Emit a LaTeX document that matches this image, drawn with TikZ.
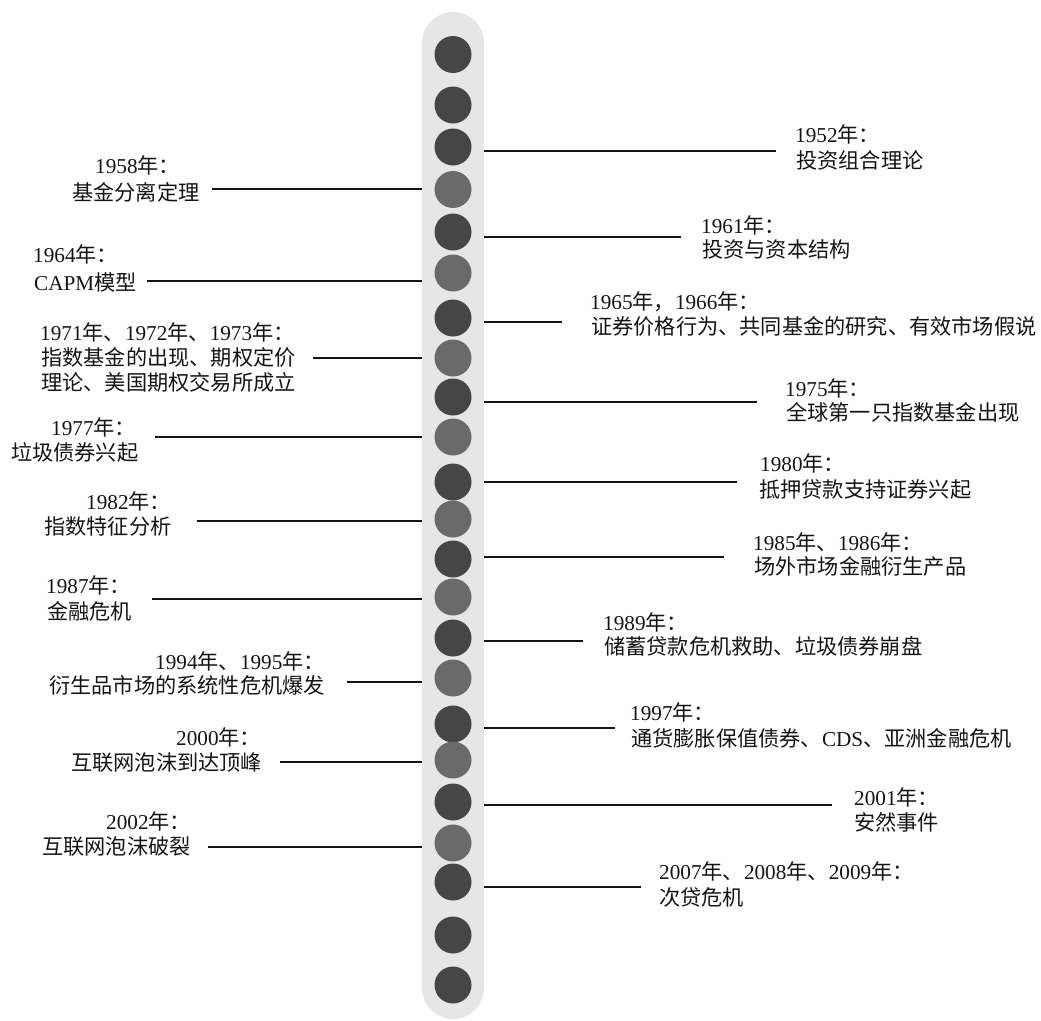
\documentclass[tikz,border=0pt]{standalone}
\usepackage{fontspec}
\setmainfont{Liberation Serif}
\newfontfamily\cjk{Noto Sans CJK SC}
\newcommand{\zhs}[1]{{\cjk #1}}
\definecolor{bargray}{HTML}{E6E6E6}
\definecolor{dotdark}{HTML}{464646}
\definecolor{dotlight}{HTML}{6A6A6A}
\definecolor{ink}{HTML}{141414}
\begin{document}
\begin{tikzpicture}[x=1pt,y=-1pt,
  lbl/.style={anchor=base west, inner sep=0pt, font=\fontsize{21.2}{26}\selectfont, text=ink},
  dotd/.style={circle, fill=dotdark, minimum size=37pt, inner sep=0pt},
  dotl/.style={circle, fill=dotlight, minimum size=37pt, inner sep=0pt},
  conn/.style={draw=ink, line width=1.7pt},
  barstyle/.style={fill=bargray, rounded corners=31pt, minimum width=62pt, minimum height=1007pt, inner sep=0pt}]
\useasboundingbox (0,0) rectangle (1041,1020);

% vertical bar
\node[barstyle] (bar) at (453,515.5) {};

% dots
\foreach \yy/\st [count=\i] in {54.5/dotd,105/dotd,147/dotd,189.5/dotl,232/dotd,273/dotl,318/dotd,358/dotl,397/dotd,437/dotl,482/dotd,519/dotl,559/dotd,597/dotl,638/dotd,678/dotl,724/dotd,760/dotl,802/dotd,843/dotl,882/dotd,935/dotd,985/dotd}
  \node[\st] (c\i) at (453,\yy) {};

% ---------- left labels ----------
\node[lbl] (y1958) at (95,173) {1958\zhs{年：}};
\node[lbl] (d1958) at (72,200) {\zhs{基金分离定理}};
\coordinate (s1958) at (212,189);
\draw[conn] (s1958) -- (s1958 -| bar.west);

\node[lbl] (y1964) at (33,262) {1964\zhs{年：}};
\node[lbl] (d1964) at (34,290) {CAPM\zhs{模型}};
\coordinate (s1964) at (147,281);
\draw[conn] (s1964) -- (s1964 -| bar.west);

\node[lbl] (y1971) at (40,340) {1971\zhs{年、}1972\zhs{年、}1973\zhs{年：}};
\node[lbl] (d1971a) at (41,365) {\zhs{指数基金的出现、期权定价}};
\node[lbl] (d1971b) at (41,390) {\zhs{理论、美国期权交易所成立}};
\coordinate (s1971) at (313,358);
\draw[conn] (s1971) -- (s1971 -| bar.west);

\node[lbl] (y1977) at (51,435) {1977\zhs{年：}};
\node[lbl] (d1977) at (11,460) {\zhs{垃圾债券兴起}};
\coordinate (s1977) at (155,437);
\draw[conn] (s1977) -- (s1977 -| bar.west);

\node[lbl] (y1982) at (86,509) {1982\zhs{年：}};
\node[lbl] (d1982) at (44,534) {\zhs{指数特征分析}};
\coordinate (s1982) at (197,521);
\draw[conn] (s1982) -- (s1982 -| bar.west);

\node[lbl] (y1987) at (46,593) {1987\zhs{年：}};
\node[lbl] (d1987) at (47,619) {\zhs{金融危机}};
\coordinate (s1987) at (152,599);
\draw[conn] (s1987) -- (s1987 -| bar.west);

\node[lbl] (y1994) at (155,669) {1994\zhs{年、}1995\zhs{年：}};
\node[lbl] (d1994) at (49,693) {\zhs{衍生品市场的系统性危机爆发}};
\coordinate (s1994) at (347,682);
\draw[conn] (s1994) -- (s1994 -| bar.west);

\node[lbl] (y2000) at (176,745) {2000\zhs{年：}};
\node[lbl] (d2000) at (71,770) {\zhs{互联网泡沫到达顶峰}};
\coordinate (s2000) at (280,762);
\draw[conn] (s2000) -- (s2000 -| bar.west);

\node[lbl] (y2002) at (106,829) {2002\zhs{年：}};
\node[lbl] (d2002) at (42,854) {\zhs{互联网泡沫破裂}};
\coordinate (s2002) at (208,847);
\draw[conn] (s2002) -- (s2002 -| bar.west);

% ---------- right labels ----------
\node[lbl] (y1952) at (795,142) {1952\zhs{年：}};
\node[lbl] (d1952) at (796,168) {\zhs{投资组合理论}};
\coordinate (e1952) at (776,151);
\draw[conn] (e1952 -| bar.east) -- (e1952);

\node[lbl] (y1961) at (701,233) {1961\zhs{年：}};
\node[lbl] (d1961) at (702,257) {\zhs{投资与资本结构}};
\coordinate (e1961) at (681,237);
\draw[conn] (e1961 -| bar.east) -- (e1961);

\node[lbl] (y1965) at (590,309) {1965\zhs{年，}1966\zhs{年：}};
\node[lbl] (d1965) at (591,334) {\zhs{证券价格行为、共同基金的研究、有效市场假说}};
\coordinate (e1965) at (562,322);
\draw[conn] (e1965 -| bar.east) -- (e1965);

\node[lbl] (y1975) at (785,396) {1975\zhs{年：}};
\node[lbl] (d1975) at (786,420) {\zhs{全球第一只指数基金出现}};
\coordinate (e1975) at (757,402);
\draw[conn] (e1975 -| bar.east) -- (e1975);

\node[lbl] (y1980) at (760,471) {1980\zhs{年：}};
\node[lbl] (d1980) at (759,497) {\zhs{抵押贷款支持证券兴起}};
\coordinate (e1980) at (737,482);
\draw[conn] (e1980 -| bar.east) -- (e1980);

\node[lbl] (y1985) at (753,550) {1985\zhs{年、}1986\zhs{年：}};
\node[lbl] (d1985) at (754,574) {\zhs{场外市场金融衍生产品}};
\coordinate (e1985) at (724,557);
\draw[conn] (e1985 -| bar.east) -- (e1985);

\node[lbl] (y1989) at (603,630) {1989\zhs{年：}};
\node[lbl] (d1989) at (604,654) {\zhs{储蓄贷款危机救助、垃圾债券崩盘}};
\coordinate (e1989) at (583,641);
\draw[conn] (e1989 -| bar.east) -- (e1989);

\node[lbl] (y1997) at (630,720) {1997\zhs{年：}};
\node[lbl] (d1997) at (631,746) {\zhs{通货膨胀保值债券、}CDS\zhs{、亚洲金融危机}};
\coordinate (e1997) at (615,728);
\draw[conn] (e1997 -| bar.east) -- (e1997);

\node[lbl] (y2001) at (854,805) {2001\zhs{年：}};
\node[lbl] (d2001) at (854,830) {\zhs{安然事件}};
\coordinate (e2001) at (832,805);
\draw[conn] (e2001 -| bar.east) -- (e2001);

\node[lbl] (y2007) at (659,879) {2007\zhs{年、}2008\zhs{年、}2009\zhs{年：}};
\node[lbl] (d2007) at (659,905) {\zhs{次贷危机}};
\coordinate (e2007) at (641,887);
\draw[conn] (e2007 -| bar.east) -- (e2007);
\end{tikzpicture}
\end{document}
